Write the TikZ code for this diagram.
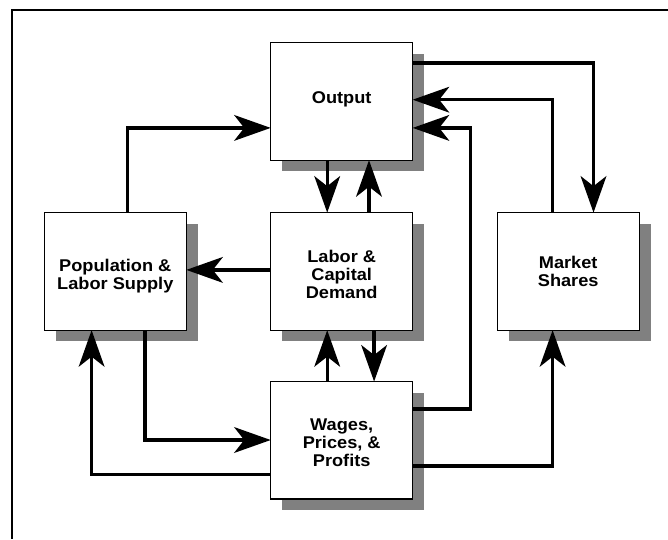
\documentclass[tikz,border=0pt]{standalone}
\usepackage{fontspec}
\setmainfont{Liberation Sans}[FakeStretch=1.07]
\usetikzlibrary{arrows.meta,shadows}
\definecolor{shadowgray}{HTML}{808080}
\tikzset{
  box/.style={draw=black, fill=white, line width=1.2pt, outer sep=0pt, inner sep=0pt,
    minimum width=142pt, minimum height=117.5pt,
    drop shadow={shadow xshift=11.5pt, shadow yshift=-11pt, fill=shadowgray, opacity=1}},
  lbl/.style={inner sep=0pt, outer sep=0pt, align=center,
    font=\fontsize{17}{18.3}\selectfont\bfseries},
  arr/.style={line width=3.3pt, -{Stealth[length=36.5pt,width=25.7pt,inset=10pt]}},
  frame/.style={line width=1.8pt}
}
\begin{document}
\begin{tikzpicture}[x=1pt,y=-1pt]
\useasboundingbox (0,0) rectangle (668,539);
\draw[frame] (668,10.2) -- (11.8,10.2) -- (11.8,539);
\node[box] (Output) at (341.7,101.4) {};
\node[box] (Labor) at (341.7,271.4) {};
\node[box] (Population) at (115.3,271.4) {};
\node[box] (Market) at (568.2,271.4) {};
\node[box] (Wages) at (341.7,440.3) {};
\node[lbl] (OutputT) at ([yshift=2pt]Output.center) {Output};
\node[lbl] (LaborT) at ([yshift=-3.2pt]Labor.center) {Labor \&\\Capital\\Demand};
\node[lbl] (PopulationT) at ([yshift=-4.4pt]Population.center) {Population \&\\Labor Supply};
\node[lbl] (MarketT) at (Market.center) {Market\\Shares};
\node[lbl] (WagesT) at ([yshift=-2.6pt]Wages.center) {Wages,\\Prices, \&\\Profits};
\draw[arr] ([yshift=38.5pt]Output.east) -| ([xshift=25.3pt]Market.north);
\draw[arr] ([xshift=-15.6pt]Market.north) |- ([yshift=1.7pt]Output.east);
\draw[arr] ([yshift=31.3pt]Wages.east) -- ++(58pt,0) |- ([yshift=-26.5pt]Output.east);
\draw[arr] ([xshift=12.5pt]Population.north) |- ([yshift=-26.5pt]Output.west);
\draw[arr] ([xshift=-14.5pt]Output.south) -- ([xshift=-14.5pt]Labor.north);
\draw[arr] ([xshift=27.3pt]Labor.north) -- ([xshift=27.3pt]Output.south);
\draw[arr] ([yshift=1.5pt]Labor.west) -- ([yshift=1.5pt]Population.east);
\draw[arr] ([xshift=-14.5pt]Wages.north) -- ([xshift=-14.5pt]Labor.south);
\draw[arr] ([xshift=32.4pt]Labor.south) -- ([xshift=32.4pt]Wages.north);
\draw[arr] ([xshift=29.6pt]Population.south) |- ([yshift=0.3pt]Wages.west);
\draw[arr] ([yshift=-34.1pt]Wages.west) -| ([xshift=-23.7pt]Population.south);
\draw[arr] ([yshift=-25.8pt]Wages.east) -| ([xshift=-15.6pt]Market.south);
\end{tikzpicture}
\end{document}
